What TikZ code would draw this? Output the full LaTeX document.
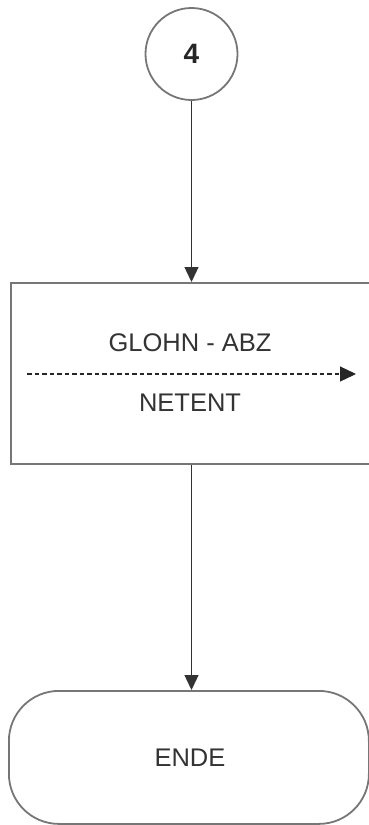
\documentclass[tikz,border=0pt]{standalone}
\usepackage{fontspec}
\setmainfont{Liberation Sans}
\usetikzlibrary{arrows.meta}
\definecolor{linegray}{HTML}{767676}
\begin{document}
\begin{tikzpicture}[x=1pt,y=-1pt,
  shapeline/.style={draw=linegray,line width=1.8pt},
  flow/.style={draw=black!80,line width=1.3pt,-{Triangle[length=15pt,width=14pt]}},
  lbl/.style={font=\fontsize{25.5}{29}\selectfont,text=black!80,inner sep=0pt}]
\useasboundingbox (0,0) rectangle (369,825);
\node[shapeline,circle,minimum size=92pt,inner sep=0pt,font=\fontsize{28}{30}\selectfont\bfseries,text=black!85] (c4) at (191.5,54) {4};
\node[shapeline,rectangle,minimum width=365pt,minimum height=181pt,anchor=north west,inner sep=0pt] (box) at (10,282) {};
\node[lbl] (glohn) at (190,343) {GLOHN - ABZ};
\node[lbl] (netent) at (190,403) {NETENT};
\coordinate (dstart) at (27,374);
\coordinate (dend) at (356,374);
\draw[draw=black!85,line width=1.3pt,dash pattern=on 4.5pt off 3pt,-{Triangle[length=16pt,width=15pt]}] (dstart) -- (dend);
\node[shapeline,rectangle,rounded corners=50pt,minimum width=360pt,minimum height=133pt,anchor=north west,inner sep=0pt] (ende) at (8,690) {};
\node[lbl] (endetxt) at (190,758) {ENDE};
\draw[flow] (c4.south) -- (c4.south |- box.north);
\draw[flow] (c4.south |- box.south) -- (c4.south |- ende.north);
\end{tikzpicture}
\end{document}
